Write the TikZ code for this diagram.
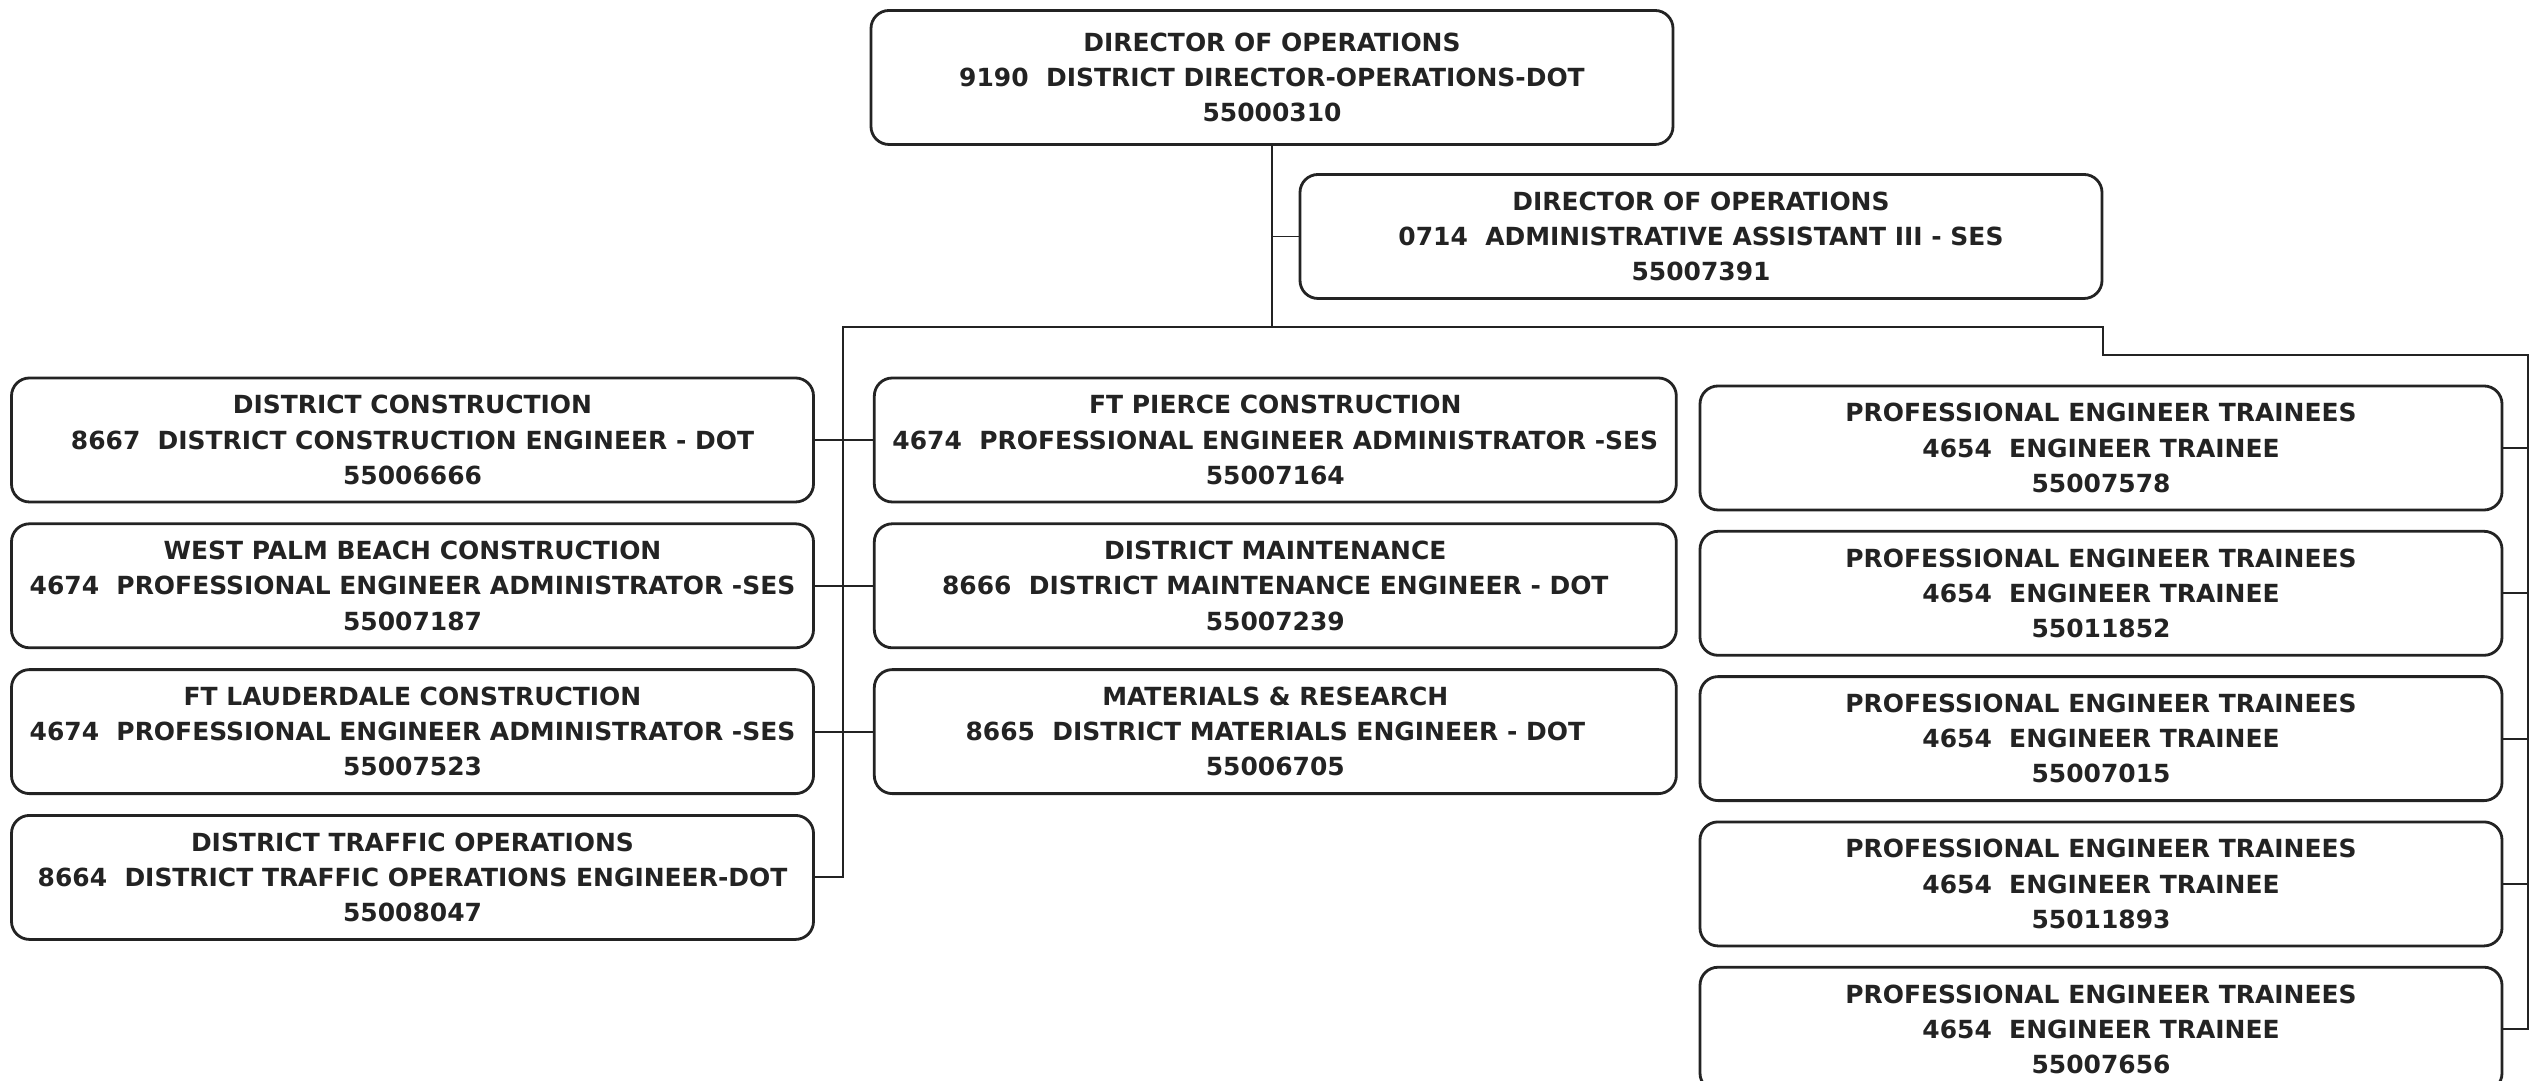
\documentclass[tikz,border=0pt]{standalone}
\usepackage{fontspec}
\setsansfont{DejaVu Sans}
\usetikzlibrary{positioning}

\begin{document}
\begin{tikzpicture}[font=\sffamily\bfseries,
  post/.style={draw=inkcolor,line width=0.8pt,rounded corners=0.18cm,
    minimum width=8.02cm,minimum height=1.24cm,align=center,text=inkcolor,
    font=\sffamily\bfseries\fontsize{7.1}{10}\selectfont},
  link/.style={draw=inkcolor,line width=0.55pt}]
\definecolor{inkcolor}{RGB}{35,35,35}

% Page frame: 1 cm = 100 px of the chart sheet.
\useasboundingbox (0,0) rectangle (25.45,-10.81);

% Director and the assistant hanging off his line.
\node[post,minimum height=1.34cm] (dir) at (12.72,-0.775)
  {DIRECTOR OF OPERATIONS\\9190~~DISTRICT DIRECTOR-OPERATIONS-DOT\\55000310};
\node[post] (asst) at (17.01,-2.365)
  {DIRECTOR OF OPERATIONS\\0714~~ADMINISTRATIVE ASSISTANT III - SES\\55007391};

% Left column: construction districts and traffic.
\node[post] (dcon) at (4.125,-4.40)
  {DISTRICT CONSTRUCTION\\8667~~DISTRICT CONSTRUCTION ENGINEER - DOT\\55006666};
\node[post,below=0.19cm of dcon] (wpb)
  {WEST PALM BEACH CONSTRUCTION\\4674~~PROFESSIONAL ENGINEER ADMINISTRATOR -SES\\55007187};
\node[post,below=0.19cm of wpb] (ftl)
  {FT LAUDERDALE CONSTRUCTION\\4674~~PROFESSIONAL ENGINEER ADMINISTRATOR -SES\\55007523};
\node[post,below=0.19cm of ftl] (traf)
  {DISTRICT TRAFFIC OPERATIONS\\8664~~DISTRICT TRAFFIC OPERATIONS ENGINEER-DOT\\55008047};

% Middle column, sharing the left spine.
\node[post,right=0.58cm of dcon] (ftp)
  {FT PIERCE CONSTRUCTION\\4674~~PROFESSIONAL ENGINEER ADMINISTRATOR -SES\\55007164};
\node[post,right=0.58cm of wpb] (maint)
  {DISTRICT MAINTENANCE\\8666~~DISTRICT MAINTENANCE ENGINEER - DOT\\55007239};
\node[post,right=0.58cm of ftl] (mat)
  {MATERIALS \& RESEARCH\\8665~~DISTRICT MATERIALS ENGINEER - DOT\\55006705};

% Right column: engineer trainees.
\node[post] (tr1) at (21.01,-4.48)
  {PROFESSIONAL ENGINEER TRAINEES\\4654~~ENGINEER TRAINEE\\55007578};
\node[post,below=0.185cm of tr1] (tr2)
  {PROFESSIONAL ENGINEER TRAINEES\\4654~~ENGINEER TRAINEE\\55011852};
\node[post,below=0.185cm of tr2] (tr3)
  {PROFESSIONAL ENGINEER TRAINEES\\4654~~ENGINEER TRAINEE\\55007015};
\node[post,below=0.185cm of tr3] (tr4)
  {PROFESSIONAL ENGINEER TRAINEES\\4654~~ENGINEER TRAINEE\\55011893};
\node[post,below=0.185cm of tr4] (tr5)
  {PROFESSIONAL ENGINEER TRAINEES\\4654~~ENGINEER TRAINEE\\55007656};

% Bus corners.
\coordinate (busL) at (8.43,-3.27);
\coordinate (busR) at (21.03,-3.27);
\coordinate (stepR) at (21.03,-3.55);
\coordinate (spineR) at (25.28,-3.55);

% Trunk, bus and the two spines.
\draw[link] (dir.south) -- (dir.south |- busL);
\draw[link] (asst.west) -- (asst.west -| dir.south);
\draw[link] (traf.east) -| (busL) -- (busR) -- (stepR) -- (spineR) |- (tr5.east);

% Stubs into the spines.
\draw[link] (dcon.east) -- (ftp.west);
\draw[link] (wpb.east) -- (maint.west);
\draw[link] (ftl.east) -- (mat.west);
\foreach \t in {tr1,tr2,tr3,tr4}
  \draw[link] (\t.east) -- (\t.east -| spineR);
\end{tikzpicture}
\end{document}
